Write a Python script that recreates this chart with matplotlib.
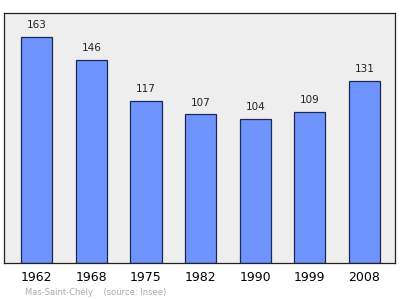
import matplotlib
matplotlib.use('Agg')
import matplotlib.pyplot as plt

years = ['1962', '1968', '1975', '1982', '1990', '1999', '2008']
population = [163, 146, 117, 107, 104, 109, 131]

fig = plt.figure(figsize=(4, 2.99), dpi=100)
ax = fig.add_axes([0.01, 0.1204, 0.9775, 0.8361])
ax.set_facecolor('#eeeeee')

pos = range(len(years))
ax.bar(pos, population, width=0.57, color='#7094fd', edgecolor='#1a2a55', linewidth=0.9, zorder=2)

for i, v in enumerate(population):
    ax.text(i, v + 8.5, str(v), ha='center', va='center', fontsize=7.5, color='#222222')

ax.set_xlim(-0.6, 6.56)
ax.set_ylim(0, 180)
ax.set_yticks([])
ax.set_xticks(list(pos))
ax.set_xticklabels(years, fontsize=9)
ax.tick_params(axis='x', length=0, pad=6)
for s in ax.spines.values():
    s.set_color('#222222')
    s.set_linewidth(0.9)

fig.text(0.062, 0.013, 'Mas-Saint-Chély    (source: Insee)', fontsize=6, color='#aaaaaa')

fig.savefig('out.png', dpi=100)
